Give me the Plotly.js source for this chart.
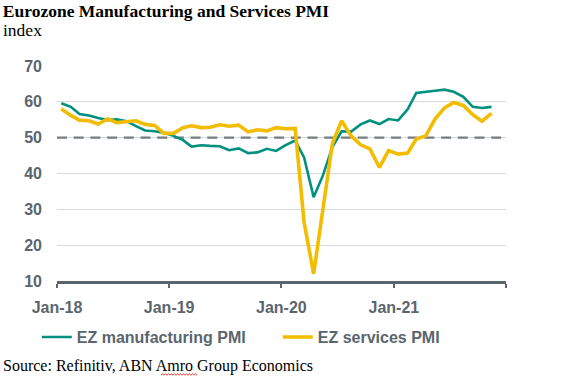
<!DOCTYPE html>
<html>
<head>
<meta charset="utf-8">
<script src="https://cdn.plot.ly/plotly-3.0.1.min.js"></script>
<style>html,body{margin:0;padding:0;background:#fff;}#chart{width:567px;height:385px;}</style>
</head>
<body>
<div id="chart"></div>
<script>
var months = [
  "2018-01","2018-02","2018-03","2018-04","2018-05","2018-06","2018-07","2018-08","2018-09","2018-10","2018-11","2018-12",
  "2019-01","2019-02","2019-03","2019-04","2019-05","2019-06","2019-07","2019-08","2019-09","2019-10","2019-11","2019-12",
  "2020-01","2020-02","2020-03","2020-04","2020-05","2020-06","2020-07","2020-08","2020-09","2020-10","2020-11","2020-12",
  "2021-01","2021-02","2021-03","2021-04","2021-05","2021-06","2021-07","2021-08","2021-09","2021-10","2021-11"
];
var manufacturingPMI = [
  59.6,58.6,56.6,56.2,55.5,54.9,55.1,54.6,53.2,52.0,51.8,51.4,
  50.5,49.3,47.5,47.9,47.7,47.6,46.5,47.0,45.7,45.9,46.9,46.3,
  47.9,49.2,44.5,33.4,39.4,47.4,51.8,51.7,53.7,54.8,53.8,55.2,
  54.8,57.9,62.5,62.9,63.1,63.4,62.8,61.4,58.6,58.3,58.6
];
var servicesPMI = [
  58.0,56.2,54.9,54.7,53.8,55.2,54.2,54.4,54.7,53.7,53.4,51.2,
  51.2,52.8,53.3,52.8,52.9,53.6,53.2,53.5,51.6,52.2,51.9,52.8,
  52.5,52.6,26.4,12.0,30.5,48.3,54.7,50.5,48.0,46.9,41.7,46.4,
  45.4,45.7,49.6,50.5,55.2,58.3,59.8,59.0,56.4,54.6,56.8
];
var seriesNames = ["EZ manufacturing PMI", "EZ services PMI"];
var threshold = 50;
var thresholdSpan = ["2018-01-01", "2021-12-22"];
var tickVals = ["2018-01-01","2019-01-01","2020-01-01","2021-01-01","2022-01-01"];
var tickText = ["Jan-18","Jan-19","Jan-20","Jan-21",""];

var xDates = months.map(function(m){ return m + "-15"; });
var grey = "#5a656d";
var tickFont = {family: "Arial, 'Liberation Sans', sans-serif", size: 16, color: grey, weight: "bold"};

var traces = [
  {x: thresholdSpan, y: thresholdSpan.map(function(){ return threshold; }), type: "scatter", mode: "lines",
   showlegend: false, hoverinfo: "skip", line: {color: "#777c80", width: 2.4, dash: "10px,6.7px"}},
  {x: xDates, y: manufacturingPMI, name: seriesNames[0], type: "scatter", mode: "lines",
   line: {color: "#00907f", width: 2.6}},
  {x: xDates, y: servicesPMI, name: seriesNames[1], type: "scatter", mode: "lines",
   line: {color: "#f2bd00", width: 3.6}}
];

// place decorations in pixel terms relative to the plot area
var plotW = 567 - 57 - 61, plotH = 385 - 66 - 104;
function px2x(px){ return (px - 57) / plotW; }
function py2y(py){ return (385 - 104 - py) / plotH; }

// spell-check squiggle under "Amro" in the source line
var sq = "M" + px2x(161) + "," + py2y(375);
for (var p = 161 + 1.5, k = 1; p <= 198; p += 1.5, k++) {
  sq += " L" + px2x(p) + "," + py2y(k % 2 ? 373.8 : 375.2);
}

var layout = {
  width: 567, height: 385,
  margin: {l: 57, r: 61, t: 66, b: 104},
  paper_bgcolor: "#fff", plot_bgcolor: "#fff",
  showlegend: true,
  title: {text: "Eurozone Manufacturing and Services PMI", x: 0.005, xref: "container", xanchor: "left",
          y: 0.988, yref: "container", yanchor: "top",
          font: {family: "'Liberation Serif', 'Times New Roman', serif", size: 17.5, color: "#000", weight: "bold"}},
  xaxis: {type: "date", range: ["2018-01-01", "2022-01-01"], tickmode: "array", tickvals: tickVals, ticktext: tickText,
          showgrid: false, zeroline: false, showline: true, linecolor: grey, linewidth: 2.5,
          ticks: "outside", ticklen: 4, tickwidth: 2, tickcolor: grey, tickfont: tickFont, ticklabelstandoff: 6},
  yaxis: {range: [10, 70], dtick: 10, tick0: 10, showgrid: true, gridcolor: "#d9d9d9", gridwidth: 1,
          zeroline: false, showline: false, ticks: "", tickfont: tickFont, ticklabelstandoff: 14},
  legend: {orientation: "h", x: -0.045, xanchor: "left", y: -0.182, yanchor: "top",
           font: tickFont, entrywidth: 196, entrywidthmode: "pixels", itemwidth: 30, bgcolor: "rgba(0,0,0,0)"},
  shapes: [
    {type: "path", xref: "paper", yref: "paper", path: sq, line: {color: "#e0201b", width: 0.9}}
  ],
  annotations: [
    {text: "index", xref: "paper", yref: "paper", x: px2x(1), y: py2y(30), xanchor: "left", yanchor: "middle", showarrow: false,
     font: {family: "'Liberation Serif', 'Times New Roman', serif", size: 17.5, color: "#000"}},
    {text: "Source: Refinitiv, ABN Amro Group Economics", xref: "paper", yref: "paper", x: px2x(1), y: py2y(366),
     xanchor: "left", yanchor: "middle", showarrow: false,
     font: {family: "'Liberation Serif', 'Times New Roman', serif", size: 16, color: "#000"}}
  ]
};

Plotly.newPlot("chart", traces, layout, {displayModeBar: false, staticPlot: true});
</script>
</body>
</html>
